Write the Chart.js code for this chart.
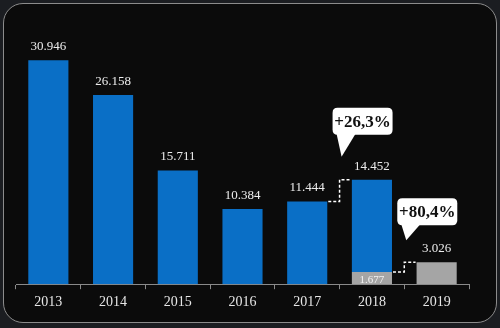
<!DOCTYPE html>
<html>
<head>
<meta charset="utf-8">
<script src="https://cdn.jsdelivr.net/npm/chart.js@4/dist/chart.umd.min.js"></script>
<style>
  html, body { margin: 0; padding: 0; background: #1b1d21; }
  #wrap { position: relative; width: 500px; height: 328px; overflow: hidden; }
  #frame {
    position: absolute; left: 3px; top: 3px; width: 492px; height: 318px;
    border: 1.5px solid #8c8c8c; border-radius: 20px; background: #0b0b0b;
  }
  #myChart { position: absolute; left: 0; top: 0; }
</style>
</head>
<body>
<div id="wrap">
  <div id="frame"></div>
  <canvas id="myChart" width="500" height="328"></canvas>
</div>
<script>
const years = ['2013', '2014', '2015', '2016', '2017', '2018', '2019'];
const blueValues = [30946, 26158, 15711, 10384, 11444, 12775, null];
const grayValues = [null, null, null, null, null, 1677, 3026];
const callouts = ['+26,3%', '+80,4%'];

const fmt = v => v.toLocaleString('de-DE');
const serif = '"Liberation Serif", "DejaVu Serif", serif';

// dashed steps + speech bubbles; from = [dataset, index], to = [dataset, index]
const steps = [
  { from: [1, 4], to: [1, 5], text: callouts[0], tipUp: 23, boxUp: 45 },
  { from: [0, 5], to: [0, 6], text: callouts[1], tipUp: 22, boxUp: 37 }
];

function roundRect(ctx, x, y, w, h, r) {
  ctx.beginPath();
  ctx.moveTo(x + r, y);
  ctx.lineTo(x + w - r, y);
  ctx.quadraticCurveTo(x + w, y, x + w, y + r);
  ctx.lineTo(x + w, y + h - r);
  ctx.quadraticCurveTo(x + w, y + h, x + w - r, y + h);
  ctx.lineTo(x + r, y + h);
  ctx.quadraticCurveTo(x, y + h, x, y + h - r);
  ctx.lineTo(x, y + r);
  ctx.quadraticCurveTo(x, y, x + r, y);
  ctx.closePath();
}

const overlay = {
  id: 'overlay',
  afterDatasetsDraw(chart) {
    const ctx = chart.ctx;
    const gMeta = chart.getDatasetMeta(0);
    const bMeta = chart.getDatasetMeta(1);
    ctx.save();
    ctx.textAlign = 'center';

    // totals above bars
    years.forEach((y, i) => {
      const total = (blueValues[i] || 0) + (grayValues[i] || 0);
      const bar = blueValues[i] != null ? bMeta.data[i] : gMeta.data[i];
      ctx.fillStyle = '#ececec';
      ctx.font = '13px ' + serif;
      ctx.textBaseline = 'bottom';
      ctx.fillText(fmt(total), bar.x, bar.y - 7);
      if (blueValues[i] != null && grayValues[i] != null) {
        const g = gMeta.data[i];
        ctx.font = '11px ' + serif;
        ctx.fillStyle = '#f4f4f4';
        ctx.textBaseline = 'middle';
        ctx.fillText(fmt(grayValues[i]), g.x, g.base - 4);
      }
    });

    steps.forEach(s => {
      const a = chart.getDatasetMeta(s.from[0]).data[s.from[1]];
      const b = chart.getDatasetMeta(s.to[0]).data[s.to[1]];
      const midX = (a.x + a.width / 2 + b.x - b.width / 2) / 2;
      ctx.strokeStyle = '#ffffff';
      ctx.lineWidth = 1.5;
      ctx.setLineDash([3, 2]);
      ctx.beginPath();
      ctx.moveTo(a.x + a.width / 2 + 1, a.y);
      ctx.lineTo(midX, a.y);
      ctx.lineTo(midX, b.y);
      ctx.lineTo(b.x - b.width / 2 - 1, b.y);
      ctx.stroke();
      ctx.setLineDash([]);

      // bubble
      const left = midX - 7;
      const w = 60, h = 27;
      const bottom = b.y - s.boxUp;
      const top = bottom - h;
      ctx.fillStyle = '#ffffff';
      roundRect(ctx, left, top, w, h, 5);
      ctx.fill();
      ctx.beginPath();
      ctx.moveTo(left + 4, bottom - 1);
      ctx.lineTo(left + 23, bottom - 1);
      ctx.lineTo(left + 9, b.y - s.tipUp);
      ctx.closePath();
      ctx.fill();
      ctx.fillStyle = '#111111';
      ctx.font = 'bold 17px ' + serif;
      ctx.textBaseline = 'middle';
      ctx.fillText(s.text, left + w / 2, top + h / 2 + 1);
    });
    ctx.restore();
  }
};

const ctx = document.getElementById('myChart').getContext('2d');
const myChart = new Chart(ctx, {
  type: 'bar',
  data: {
    labels: years,
    datasets: [
      { data: grayValues, backgroundColor: '#a5a5a5', barPercentage: 1, categoryPercentage: 0.62 },
      { data: blueValues, backgroundColor: '#0a6fc6', barPercentage: 1, categoryPercentage: 0.62 }
    ]
  },
  options: {
    responsive: false,
    animation: false,
    layout: { padding: { left: 16, right: 31, top: 31, bottom: 12 } },
    plugins: { legend: { display: false }, tooltip: { enabled: false } },
    scales: {
      x: {
        stacked: true,
        grid: { drawOnChartArea: false, drawTicks: true, tickLength: 5, color: '#8a8a8a' },
        border: { color: '#8a8a8a', width: 1 },
        ticks: { color: '#e6e6e6', font: { family: serif, size: 14 }, padding: 5 }
      },
      y: {
        stacked: true,
        display: false,
        min: 0,
        max: 35000
      }
    }
  },
  plugins: [overlay]
});
</script>
</body>
</html>
